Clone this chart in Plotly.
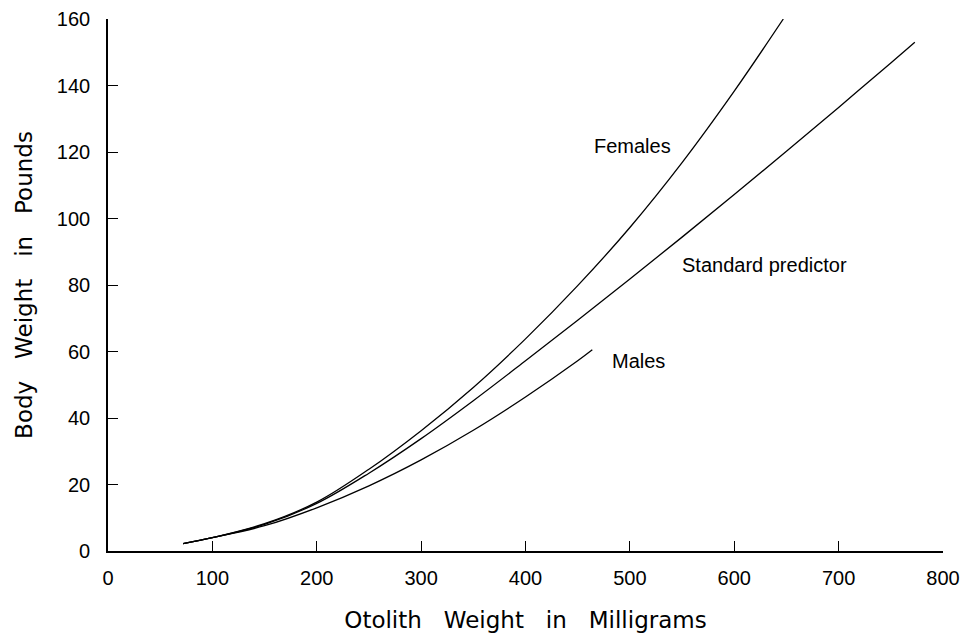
import plotly.graph_objects as go

# Data (otolith weight mg -> body weight lb)
females_x = [72, 100, 150, 200, 250, 300, 350, 400, 450, 500, 550, 600, 647]
females_y = [2.2, 4.0, 8.2, 14.7, 24.6, 36.2, 49.2, 63.8, 79.8, 97.3, 116.8, 138.3, 160.0]

standard_x = [72, 100, 150, 200, 250, 300, 350, 400, 450, 500, 550, 600, 650, 700, 750, 773]
standard_y = [2.2, 4.0, 8.0, 14.3, 23.4, 33.8, 45.2, 57.2, 69.4, 81.8, 94.4, 107.2, 120.2, 133.4, 146.8, 153.0]

males_x = [72, 100, 150, 200, 250, 300, 350, 400, 450, 464]
males_y = [2.2, 4.0, 7.6, 13.0, 19.6, 27.4, 36.3, 46.3, 57.2, 60.5]

x_ticks = [0, 100, 200, 300, 400, 500, 600, 700, 800]
y_ticks = [0, 20, 40, 60, 80, 100, 120, 140, 160]

labels = ["Females", "Standard predictor", "Males"]
label_x = [464, 548, 481]
label_y = [121.8, 86.1, 57.0]

FONT = "Liberation Sans, Arial, Helvetica, sans-serif"
TITLE_FONT = "DejaVu Sans, Liberation Sans, sans-serif"

fig = go.Figure()
for xs, ys, name in [(females_x, females_y, "Females"),
                     (standard_x, standard_y, "Standard predictor"),
                     (males_x, males_y, "Males")]:
    fig.add_trace(go.Scatter(x=xs, y=ys, mode="lines", name=name,
                             line=dict(color="black", width=1.3, shape="spline", smoothing=1.0),
                             showlegend=False, hoverinfo="skip"))

for t, lx, ly in zip(labels, label_x, label_y):
    fig.add_annotation(x=lx, y=ly, text=t, showarrow=False, xanchor="left", yanchor="middle",
                       font=dict(family=FONT, size=20, color="black"))

fig.update_layout(
    width=961, height=642,
    margin=dict(l=108, r=18, t=19, b=91),
    plot_bgcolor="white", paper_bgcolor="white",
    font=dict(family=FONT, color="black"),
)
fig.update_xaxes(range=[0, 800], tickvals=x_ticks, ticktext=[str(v) for v in x_ticks],
                 automargin=False,
                 showgrid=False, zeroline=False, showline=True, linecolor="black", linewidth=1.6,
                 ticks="inside", ticklen=10, tickwidth=1.3, tickcolor="black",
                 tickfont=dict(family=FONT, size=20), ticklabelstandoff=8,
                 title=dict(text="Otolith   Weight   in   Milligrams",
                            font=dict(family=TITLE_FONT, size=23), standoff=24))
fig.update_yaxes(range=[0, 160], tickvals=y_ticks, ticktext=[str(v) for v in y_ticks],
                 automargin=False,
                 showgrid=False, zeroline=False, showline=True, linecolor="black", linewidth=1.6,
                 ticks="inside", ticklen=10, tickwidth=1.3, tickcolor="black",
                 tickfont=dict(family=FONT, size=20), ticklabelstandoff=12,
                 title=dict(text="Body   Weight   in   Pounds",
                            font=dict(family=TITLE_FONT, size=23), standoff=18))

fig.write_html("out.html", config={"displayModeBar": False},
               post_script="document.body.style.margin='0';document.body.style.overflow='hidden';")
